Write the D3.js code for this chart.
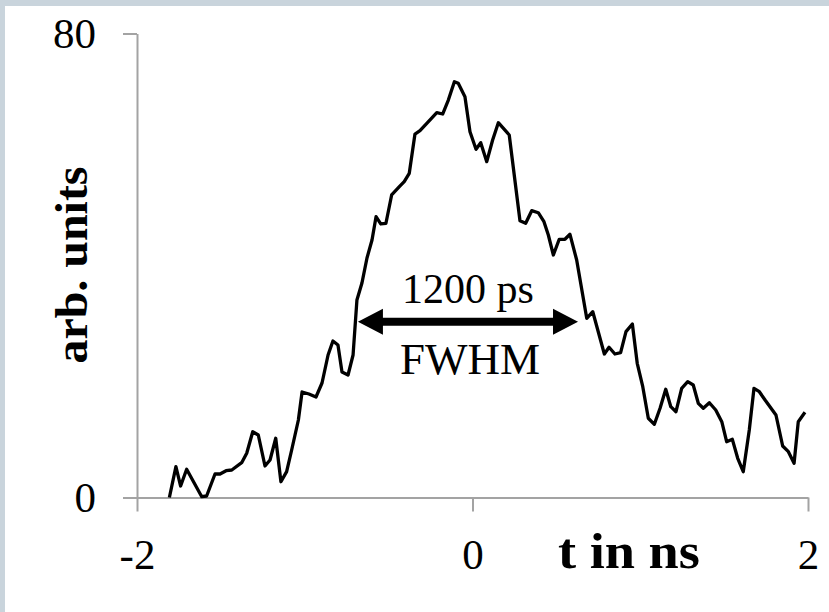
<!DOCTYPE html>
<html>
<head>
<meta charset="utf-8">
<script src="https://cdn.jsdelivr.net/npm/d3@7"></script>
<style>
  html, body { margin: 0; padding: 0; background: #ffffff; }
  svg { display: block; }
  .axis path, .axis line { stroke: #a3a3a3; stroke-width: 2px; }
  .axis text { font-family: "Liberation Serif", "Times New Roman", serif; font-size: 43px; fill: #000; }
</style>
</head>
<body>
<script>
// Pulse shape: time in ns, signal in arbitrary units
const times = [
  -1.807, -1.768, -1.740, -1.704, -1.614, -1.585, -1.535, -1.505, -1.469, -1.435,
  -1.376, -1.346, -1.310, -1.277, -1.237, -1.207, -1.173, -1.142, -1.108, -1.078,
  -1.038, -1.016, -0.975, -0.933, -0.897, -0.861, -0.832, -0.802, -0.778, -0.742,
  -0.712, -0.689, -0.659, -0.629, -0.599, -0.575, -0.547, -0.516, -0.482, -0.436,
  -0.407, -0.377, -0.343, -0.313, -0.253, -0.213, -0.178, -0.144, -0.108, -0.085,
  -0.045, -0.015, 0.021, 0.049, 0.085, 0.120, 0.154, 0.219, 0.283, 0.317,
  0.353, 0.392, 0.426, 0.452, 0.482, 0.517, 0.551, 0.581, 0.621, 0.681,
  0.717, 0.786, 0.814, 0.849, 0.883, 0.915, 0.953, 0.982, 1.015, 1.048,
  1.084, 1.118, 1.152, 1.182, 1.213, 1.247, 1.283, 1.316, 1.346, 1.376,
  1.412, 1.450, 1.486, 1.515, 1.549, 1.581, 1.614, 1.650, 1.678, 1.710,
  1.744, 1.809, 1.849, 1.883, 1.917, 1.942, 1.982
];
const signal = [
  0.0, 5.31, 1.98, 4.86, 0.14, 0.26, 4.05, 4.05, 4.62, 4.74,
  6.0, 7.62, 11.34, 10.78, 5.43, 6.47, 10.21, 2.72, 4.45, 8.19,
  13.36, 18.19, 17.84, 17.33, 19.74, 24.57, 26.98, 26.29, 21.64, 21.12,
  24.57, 34.05, 36.98, 41.29, 44.40, 48.41, 47.16, 47.28, 52.16, 53.59,
  54.45, 55.90, 62.67, 63.24, 65.09, 66.34, 66.12, 68.53, 71.69, 71.41,
  69.10, 63.07, 60.03, 61.17, 57.90, 61.64, 64.62, 62.50, 47.72, 47.28,
  49.45, 49.10, 47.55, 45.26, 41.81, 44.52, 44.52, 45.38, 40.95, 30.90,
  32.03, 24.74, 25.90, 24.74, 24.97, 28.59, 29.91, 23.14, 19.10, 13.66,
  12.62, 15.38, 18.66, 15.66, 14.79, 18.83, 19.97, 19.40, 16.24, 15.38,
  16.34, 15.09, 13.07, 9.62, 10.03, 6.76, 4.45, 11.64, 18.83, 18.24,
  16.81, 14.22, 8.88, 7.90, 5.90, 13.07, 14.69
];

const xTicks = [-2, 0, 2];
const yTicks = [0, 80];
const xTitle = "t in ns";
const yTitle = "arb. units";

// Width annotation: arrow ends (ns), level (arb. units) and its labels
const widthArrow = [-0.683, 0.629];
const widthLevel = 30.3;
const widthLabel = "1200 ps";
const widthNote = "FWHM";

const W = 829, H = 612;
const serif = "'Liberation Serif', 'Times New Roman', serif";
const svg = d3.select("body").append("svg").attr("width", W).attr("height", H);

// frame strips along the top and left edges
svg.append("rect").attr("x", 0).attr("y", 0).attr("width", W).attr("height", 6).attr("fill", "#c9d4dc");
svg.append("rect").attr("x", 0).attr("y", 0).attr("width", 5).attr("height", H).attr("fill", "#c9d4dc");

const x = d3.scaleLinear().domain([-2, 2]).range([137, 808]);
const y = d3.scaleLinear().domain([0, 80]).range([497.5, 33.5]);

const xAxis = svg.append("g").attr("class", "axis")
  .attr("transform", `translate(0,${y(0)})`)
  .call(d3.axisBottom(x).tickValues(xTicks).tickSize(14).tickSizeOuter(0).tickPadding(27).tickFormat(d3.format("d")));

const yAxis = svg.append("g").attr("class", "axis")
  .attr("transform", `translate(${x(-2)},0)`)
  .call(d3.axisLeft(y).tickValues(yTicks).tickSize(14).tickSizeOuter(0).tickPadding(27).tickFormat(d3.format("d")));

svg.selectAll(".axis .domain").attr("fill", "none");
svg.selectAll(".axis text").attr("fill", "#000");
xAxis.selectAll("text").text(d => d < 0 ? "-" + Math.abs(d) : d);

// pulse trace
const pts = times.map((t, i) => [t, signal[i]]);
svg.append("path")
  .datum(pts)
  .attr("fill", "none")
  .attr("stroke", "#000")
  .attr("stroke-width", 3.3)
  .attr("stroke-linejoin", "round")
  .attr("d", d3.line().x(d => x(d[0])).y(d => y(d[1])));

// axis titles
svg.append("text")
  .attr("x", 629).attr("y", 568)
  .attr("text-anchor", "middle")
  .attr("font-family", serif)
  .attr("font-weight", "bold").attr("font-size", 50)
  .attr("textLength", 142).attr("lengthAdjust", "spacingAndGlyphs")
  .text(xTitle);

svg.append("text")
  .attr("transform", "translate(87,265) rotate(-90)")
  .attr("text-anchor", "middle")
  .attr("font-family", serif)
  .attr("font-weight", "bold").attr("font-size", 47)
  .attr("textLength", 197).attr("lengthAdjust", "spacingAndGlyphs")
  .text(yTitle);

// double-headed width arrow
const ax0 = x(widthArrow[0]), ax1 = x(widthArrow[1]), ay = y(widthLevel);
const headL = 25, headH = 13, shaft = 4;
svg.append("path")
  .attr("fill", "#000")
  .attr("d", [
    `M${ax0},${ay}`,
    `L${ax0 + headL},${ay - headH}`,
    `L${ax0 + headL},${ay - shaft}`,
    `L${ax1 - headL},${ay - shaft}`,
    `L${ax1 - headL},${ay - headH}`,
    `L${ax1},${ay}`,
    `L${ax1 - headL},${ay + headH}`,
    `L${ax1 - headL},${ay + shaft}`,
    `L${ax0 + headL},${ay + shaft}`,
    `L${ax0 + headL},${ay + headH}`,
    "Z"
  ].join(""));

const midX = (ax0 + ax1) / 2;
svg.append("text")
  .attr("x", midX).attr("y", 303)
  .attr("text-anchor", "middle")
  .attr("font-family", serif)
  .attr("font-size", 42)
  .text(widthLabel);
svg.append("text")
  .attr("x", midX + 2).attr("y", 374)
  .attr("text-anchor", "middle")
  .attr("font-family", serif)
  .attr("font-size", 45)
  .text(widthNote);
</script>
</body>
</html>
